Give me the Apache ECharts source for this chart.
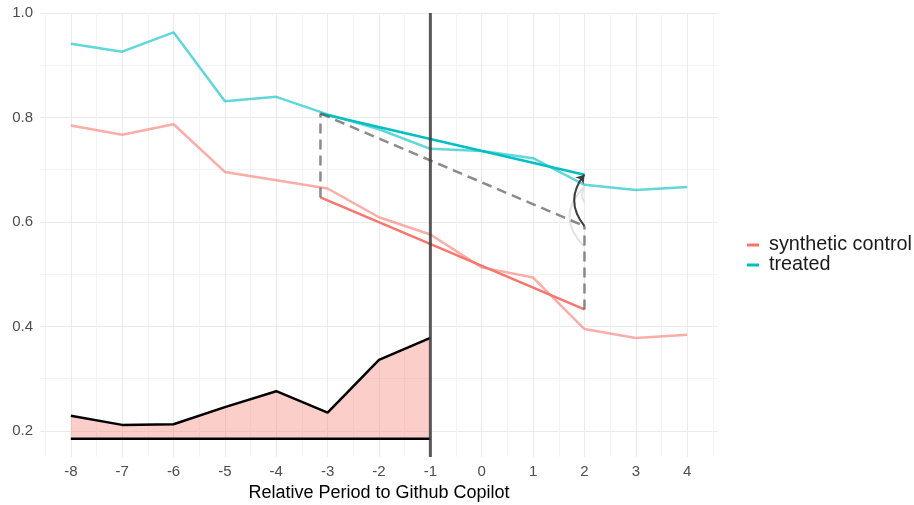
<!DOCTYPE html>
<html>
<head>
<meta charset="utf-8">
<script src="https://cdn.jsdelivr.net/npm/echarts@6/dist/echarts.min.js"></script>
<style>
  html, body { margin: 0; padding: 0; background: #ffffff; }
  #chart { width: 914px; height: 505px; }
</style>
</head>
<body>
<div id="chart"></div>
<script>
// ---- data ----
const periods = [-8, -7, -6, -5, -4, -3, -2, -1, 0, 1, 2, 3, 4];
const treated = [0.941, 0.926, 0.963, 0.831, 0.8395, 0.806, 0.7775, 0.740, 0.736, 0.722, 0.671, 0.661, 0.667];
const syntheticControl = [0.7845, 0.767, 0.787, 0.6957, 0.680, 0.664, 0.609, 0.576, 0.513, 0.4935, 0.395, 0.378, 0.384];

const weightPeriods = [-8, -7, -6, -5, -4, -3, -2, -1];
const timeWeights = [0.2288, 0.2115, 0.2128, 0.2454, 0.276, 0.235, 0.336, 0.378];
const weightBaseline = 0.185;

const trendTimes = [-3.14, 2];
const treatedTrend = [0.8075, 0.6905];
const syntheticTrend = [0.647, 0.4325];
const shiftedSynthetic = [0.8075, 0.592];

const treatmentStart = -1;
const effectArrow = [0.592, 0.6905];
const faintArcA = [0.553, 0.668];
const faintArcB = [0.637, 0.667];

const seriesNames = ['synthetic control', 'treated'];
const xTitle = 'Relative Period to Github Copilot';

// ---- styles ----
const RED = '#F8766D', CYAN = '#00BFC4';
const MAJOR = '#ebebeb', MINOR = '#f4f4f4', NONE = 'rgba(0,0,0,0)';
const FONT = 'Liberation Sans, Arial, Helvetica, sans-serif';

const pairs = (xs, ys) => xs.map((x, i) => [x, ys[i]]);

const chart = echarts.init(document.getElementById('chart'), null, { renderer: 'canvas' });

const dashed = { color: 'rgba(90,90,90,0.7)', width: 2.5, type: [10, 6] };

const option = {
  animation: false,
  backgroundColor: '#ffffff',
  grid: { left: 40, top: 13, width: 678, height: 444, containLabel: false },
  xAxis: {
    type: 'value', min: -8.6, max: 4.6, interval: 0.1,
    axisLine: { show: false }, axisTick: { show: false },
    axisLabel: {
      color: '#4d4d4d', fontSize: 15, fontFamily: FONT, margin: 7,
      showMinLabel: false, showMaxLabel: false,
      formatter: v => (Math.abs(v - Math.round(v)) < 1e-6 ? String(Math.round(v)) : '')
    },
    splitLine: { show: true, lineStyle: { width: 1, color: [NONE, MINOR, NONE, NONE, NONE, NONE, MAJOR, NONE, NONE, NONE] } }
  },
  yAxis: {
    type: 'value', min: 0.15, max: 1.0, interval: 0.05,
    axisLine: { show: false }, axisTick: { show: false },
    axisLabel: {
      color: '#4d4d4d', fontSize: 15, fontFamily: FONT, margin: 7,
      formatter: v => {
        const k = Math.round(v * 100);
        return (k % 20 === 0) ? (k / 100).toFixed(1) : '';
      }
    },
    splitLine: { show: true, lineStyle: { width: 1, color: [NONE, MAJOR, NONE, MINOR] } }
  },
  legend: {
    orient: 'vertical', left: 742, top: 230,
    data: seriesNames,
    icon: 'rect', itemWidth: 12, itemHeight: 3, itemGap: 0,
    textStyle: { fontSize: 19.8, color: '#1a1a1a', fontFamily: FONT, lineHeight: 19.4, padding: [0, 0, 0, 5] },
    selectedMode: false
  },
  graphic: [{
    type: 'text', x: 379, y: 493,
    style: { text: xTitle, fontSize: 18, fontFamily: FONT, fill: '#000', textAlign: 'center', textVerticalAlign: 'middle' }
  }],
  series: [
    { name: 'weights', type: 'line', data: pairs(weightPeriods, timeWeights), showSymbol: false, silent: true,
      lineStyle: { color: '#000', width: 2.5 },
      areaStyle: { color: 'rgba(248,118,109,0.36)', origin: weightBaseline, opacity: 1 }, z: 2 },
    { name: 'baseline', type: 'line', data: pairs([weightPeriods[0], weightPeriods[weightPeriods.length - 1]], [weightBaseline, weightBaseline]),
      showSymbol: false, silent: true, lineStyle: { color: '#000', width: 2.5 }, z: 3 },
    { name: 'treated trajectory', type: 'line', data: pairs(periods, treated), showSymbol: false, silent: true,
      lineStyle: { color: 'rgba(0,191,196,0.62)', width: 2.5 }, z: 3 },
    { name: 'synthetic trajectory', type: 'line', data: pairs(periods, syntheticControl), showSymbol: false, silent: true,
      lineStyle: { color: 'rgba(248,118,109,0.6)', width: 2.5 }, z: 3 },
    { name: 'synthetic control', type: 'line', data: pairs(trendTimes, syntheticTrend), showSymbol: false,
      color: RED, lineStyle: { color: RED, width: 2.5 }, z: 4 },
    { name: 'treated', type: 'line', data: pairs(trendTimes, treatedTrend), showSymbol: false,
      color: CYAN, lineStyle: { color: CYAN, width: 2.5 }, z: 4 },
    { name: 'parallel', type: 'line', data: pairs(trendTimes, shiftedSynthetic), showSymbol: false, silent: true,
      lineStyle: dashed, z: 5 },
    { name: 'pre gap', type: 'line', data: pairs([trendTimes[0], trendTimes[0]], [syntheticTrend[0], treatedTrend[0]]),
      showSymbol: false, silent: true, lineStyle: dashed, z: 5 },
    { name: 'post gap', type: 'line', data: pairs([trendTimes[1], trendTimes[1]], [syntheticTrend[1], shiftedSynthetic[1]]),
      showSymbol: false, silent: true, lineStyle: dashed, z: 5 },
    { name: 'treatment', type: 'line', data: pairs([treatmentStart, treatmentStart], [0.15, 1.0]), showSymbol: false, silent: true,
      lineStyle: { color: 'rgba(60,60,60,0.85)', width: 3 }, z: 6 },
    { name: 'faint arcs', type: 'lines', coordinateSystem: 'cartesian2d', silent: true, z: 5,
      lineStyle: { color: '#e3e3e3', width: 2, opacity: 1 },
      data: [
        { coords: [[trendTimes[1], faintArcA[0]], [trendTimes[1], faintArcA[1]]], lineStyle: { curveness: 0.5 } },
        { coords: [[trendTimes[1], faintArcB[0]], [trendTimes[1], faintArcB[1]]], lineStyle: { curveness: 0.3 } }
      ] },
    { name: 'effect', type: 'lines', coordinateSystem: 'cartesian2d', silent: true, z: 7,
      symbol: ['none', 'arrow'], symbolSize: 8,
      lineStyle: { color: '#3d3d3d', width: 2, opacity: 1, curveness: 0.4 },
      data: [{ coords: [[trendTimes[1], effectArrow[0]], [trendTimes[1], effectArrow[1]]] }] }
  ]
};
chart.setOption(option);
</script>
</body>
</html>
